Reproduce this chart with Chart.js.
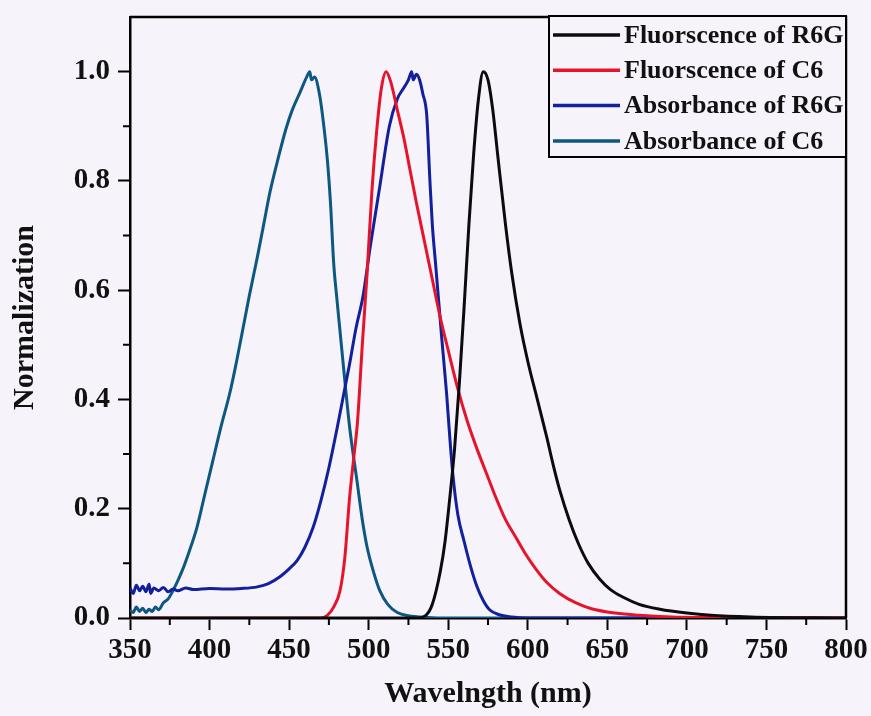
<!DOCTYPE html>
<html>
<head>
<meta charset="utf-8">
<title>Normalized spectra</title>
<script src="https://cdn.jsdelivr.net/npm/chart.js@4.4.1/dist/chart.umd.min.js"></script>
<style>
  html, body { margin: 0; padding: 0; background: #f6f3fa; }
  #wrap { width: 871px; height: 716px; }
</style>
</head>
<body>
<div id="wrap"><canvas id="spectra" width="871" height="716"></canvas></div>
<script>
// series labels and colours
const seriesLabels = ["Fluorscence of R6G", "Fluorscence of C6", "Absorbance of R6G", "Absorbance of C6"];
const seriesColors = ["#0c0c10", "#e5142b", "#12209c", "#0d5880"];

// Fluorescence of R6G (black)
const fluoR6GNm  = [350, 500, 530, 536, 540, 545, 548, 551, 554, 557, 560, 563, 566, 569, 572, 575, 578, 581, 586, 590, 595, 600, 606, 612, 616, 620, 626, 632, 638, 645, 652, 660, 670, 683, 700, 715, 740, 800];
const fluoR6GVal = [0, 0, 0, 0.005, 0.025, 0.085, 0.14, 0.22, 0.31, 0.43, 0.57, 0.72, 0.85, 0.95, 1.0, 0.985, 0.93, 0.85, 0.72, 0.63, 0.54, 0.47, 0.4, 0.33, 0.28, 0.235, 0.18, 0.135, 0.1, 0.072, 0.052, 0.038, 0.025, 0.016, 0.009, 0.005, 0.002, 0];

// Fluorescence of C6 (red)
const fluoC6Nm  = [350, 470, 474, 478, 482, 485, 488, 490.5, 493, 496, 499, 502, 505, 508, 511, 514, 518, 522, 526, 530, 535, 540, 545, 550, 556, 562, 568, 574, 580, 586, 592, 598, 605, 612, 620, 630, 640, 655, 670, 690, 720, 800];
const fluoC6Val = [0, 0, 0.005, 0.02, 0.05, 0.11, 0.22, 0.29, 0.36, 0.5, 0.63, 0.78, 0.89, 0.97, 1.0, 0.98, 0.93, 0.88, 0.82, 0.76, 0.69, 0.62, 0.55, 0.49, 0.42, 0.36, 0.31, 0.265, 0.22, 0.18, 0.15, 0.12, 0.09, 0.065, 0.045, 0.028, 0.017, 0.009, 0.005, 0.002, 0.001, 0];

// Absorbance of R6G (navy)
const absR6GNm  = [350, 352, 354, 356, 358, 360, 362, 363, 365, 368, 371, 374, 377, 380, 385, 390, 400, 410, 420, 430, 437, 444, 450, 455, 460, 465, 470, 475, 480, 484, 488, 492, 496.5, 501, 507, 513, 518, 522, 525, 527, 528, 530, 532, 534, 536.5, 538.5, 540, 542, 544, 546, 549, 551, 553, 556, 560, 564, 568, 572, 576, 582, 590, 600, 800];
const absR6GVal = [0.055, 0.045, 0.06, 0.05, 0.058, 0.048, 0.062, 0.045, 0.055, 0.05, 0.056, 0.048, 0.053, 0.05, 0.055, 0.052, 0.054, 0.053, 0.054, 0.057, 0.063, 0.075, 0.09, 0.105, 0.13, 0.165, 0.215, 0.275, 0.345, 0.405, 0.465, 0.53, 0.59, 0.68, 0.79, 0.9, 0.95, 0.97, 0.985, 1.0, 0.985, 0.995, 0.985, 0.96, 0.92, 0.8, 0.72, 0.65, 0.58, 0.51, 0.41, 0.33, 0.26, 0.19, 0.14, 0.095, 0.058, 0.032, 0.015, 0.006, 0.002, 0, 0];

// Absorbance of C6 (teal)
const absC6Nm  = [350, 352, 354, 356, 358, 360, 362, 364, 366, 368, 371, 374, 377, 380, 383, 387, 392, 397, 402, 407, 413, 417, 421, 425, 430, 434, 438, 443, 448, 452, 457, 461, 463, 464, 466, 469, 471, 474, 476, 478, 480, 482, 485, 488, 492.7, 496, 499, 503, 507, 512, 518, 525, 537, 550, 800];
const absC6Val = [0.015, 0.01, 0.02, 0.012, 0.018, 0.01, 0.016, 0.012, 0.02, 0.015, 0.028, 0.035, 0.05, 0.068, 0.088, 0.12, 0.165, 0.226, 0.287, 0.348, 0.415, 0.47, 0.53, 0.59, 0.66, 0.72, 0.78, 0.84, 0.895, 0.93, 0.963, 0.99, 1.0, 0.985, 0.99, 0.96, 0.92, 0.84, 0.76, 0.65, 0.585, 0.525, 0.435, 0.35, 0.25, 0.18, 0.13, 0.085, 0.05, 0.025, 0.01, 0.004, 0.001, 0, 0];

// axis ticks
const xMajorTicks = [350, 400, 450, 500, 550, 600, 650, 700, 750, 800];
const xMinorTicks = [375, 425, 475, 525, 575, 625, 675, 725, 775];
const yMajorTicks = [0, 0.2, 0.4, 0.6, 0.8, 1.0];
const yMinorTicks = [0.1, 0.3, 0.5, 0.7, 0.9];

const serif = "'Liberation Serif', 'Times New Roman', serif";

function toPoints(nm, vals) {
    return nm.map((x, i) => ({ x: x, y: vals[i] }));
}

const seriesData = [
    toPoints(fluoR6GNm, fluoR6GVal),
    toPoints(fluoC6Nm, fluoC6Val),
    toPoints(absR6GNm, absR6GVal),
    toPoints(absC6Nm, absC6Val)
];

// background colour for the whole canvas
const bgPlugin = {
    id: "bg",
    beforeDraw(chart) {
        const ctx = chart.ctx;
        ctx.save();
        ctx.fillStyle = "#f6f3fa";
        ctx.fillRect(0, 0, chart.width, chart.height);
        ctx.restore();
    }
};

// frame, minor ticks and the boxed legend
const framePlugin = {
    id: "frame",
    afterDraw(chart) {
        const ctx = chart.ctx;
        const a = chart.chartArea;
        const xs = chart.scales.x, ys = chart.scales.y;
        ctx.save();
        ctx.strokeStyle = "#000";
        ctx.lineWidth = 2.5;
        ctx.beginPath();
        ctx.moveTo(a.left, a.top);
        ctx.lineTo(a.right, a.top);
        ctx.lineTo(a.right, a.bottom);
        ctx.stroke();

        // minor ticks
        ctx.lineWidth = 2;
        ctx.beginPath();
        xMinorTicks.forEach(v => {
            const px = xs.getPixelForValue(v);
            ctx.moveTo(px, a.bottom);
            ctx.lineTo(px, a.bottom + 7);
        });
        yMinorTicks.forEach(v => {
            const py = ys.getPixelForValue(v);
            ctx.moveTo(a.left - 7, py);
            ctx.lineTo(a.left, py);
        });
        ctx.stroke();

        // legend box
        const boxW = 297, boxH = 141;
        const bx = a.right - boxW, by = a.top - 1;
        ctx.fillStyle = "#f6f3fa";
        ctx.fillRect(bx, by, boxW, boxH);
        ctx.lineWidth = 2;
        ctx.strokeStyle = "#000";
        ctx.strokeRect(bx, by, boxW, boxH);
        ctx.font = "bold 26px " + serif;
        ctx.textBaseline = "middle";
        ctx.textAlign = "left";
        chart.data.datasets.forEach((ds, i) => {
            const cy = by + 19 + i * 35.3;
            ctx.strokeStyle = ds.borderColor;
            ctx.lineWidth = 3.5;
            ctx.beginPath();
            ctx.moveTo(bx + 4, cy);
            ctx.lineTo(bx + 71, cy);
            ctx.stroke();
            ctx.fillStyle = "#111";
            ctx.fillText(ds.label, bx + 75, cy + 1);
        });
        ctx.restore();
    }
};

const ctx = document.getElementById("spectra").getContext("2d");
new Chart(ctx, {
    type: "line",
    data: {
        datasets: seriesData.map((pts, i) => ({
            label: seriesLabels[i],
            data: pts,
            borderColor: seriesColors[i],
            backgroundColor: seriesColors[i],
            borderWidth: 3,
            pointRadius: 0,
            fill: false,
            cubicInterpolationMode: "monotone"
        }))
    },
    options: {
        responsive: false,
        animation: false,
        layout: { padding: { top: 17, right: 25, left: 0, bottom: 0 } },
        plugins: {
            legend: { display: false },
            tooltip: { enabled: false }
        },
        scales: {
            x: {
                type: "linear",
                min: 350,
                max: 800,
                afterFit(scale) { scale.height = 98; },
                afterBuildTicks(scale) { scale.ticks = xMajorTicks.map(v => ({ value: v })); },
                border: { display: true, color: "#000", width: 2.5 },
                grid: { drawOnChartArea: false, drawTicks: true, tickLength: 12, tickWidth: 2, tickColor: "#000" },
                ticks: {
                    color: "#111",
                    padding: 3,
                    maxRotation: 0,
                    font: { family: serif, size: 29, weight: "bold" },
                    callback: v => String(v)
                },
                title: {
                    display: true,
                    text: "Wavelngth (nm)",
                    color: "#111",
                    font: { family: serif, size: 30, weight: "bold" },
                    padding: { top: 0, bottom: 4 }
                }
            },
            y: {
                min: 0,
                max: 1.1,
                afterFit(scale) {
                    scale.width = 130;
                    // no label reaches the top edge, so drop the reserved space
                    scale.paddingTop = 0;
                    scale.paddingBottom = 0;
                },
                afterBuildTicks(scale) { scale.ticks = yMajorTicks.map(v => ({ value: v })); },
                border: { display: true, color: "#000", width: 2.5 },
                grid: { drawOnChartArea: false, drawTicks: true, tickLength: 12, tickWidth: 2, tickColor: "#000" },
                ticks: {
                    color: "#111",
                    padding: 8,
                    font: { family: serif, size: 29, weight: "bold" },
                    callback: v => Number(v).toFixed(1)
                },
                title: {
                    display: true,
                    text: "Normalization",
                    color: "#111",
                    font: { family: serif, size: 30, weight: "bold" },
                    padding: { top: 7, bottom: 0 }
                }
            }
        }
    },
    plugins: [bgPlugin, framePlugin]
});
</script>
</body>
</html>
